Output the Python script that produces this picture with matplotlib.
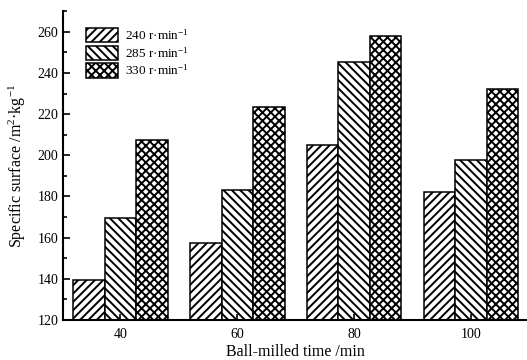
import matplotlib
matplotlib.use("Agg")
import matplotlib.pyplot as plt
import numpy as np
from matplotlib.ticker import MultipleLocator

plt.rcParams["font.family"] = ["Liberation Serif", "DejaVu Serif"]
plt.rcParams["mathtext.fontset"] = "custom"
plt.rcParams["mathtext.rm"] = "Liberation Serif"
plt.rcParams["mathtext.it"] = "Liberation Serif:italic"
plt.rcParams["hatch.linewidth"] = 1.4

times = ["40", "60", "80", "100"]
speeds = ["240 r·min$^{-1}$", "285 r·min$^{-1}$", "330 r·min$^{-1}$"]
s240 = [139.5, 157.5, 205, 182.3]
s285 = [169.4, 183.1, 245.3, 197.6]
s330 = [207.3, 223.4, 257.7, 232.4]
hatches = ["////", "\\\\\\\\", "xxxx"]

fig = plt.figure(figsize=(5.27, 3.6), dpi=100)
ax = fig.add_axes([0.1195, 0.111, 0.8805, 0.858])

x = np.arange(len(times))
w = 0.27
for i, (vals, lab, h) in enumerate(zip([s240, s285, s330], speeds, hatches)):
    ax.bar(x + (i - 1) * w, np.array(vals) - 120, w, bottom=120, color="white",
           edgecolor="black", linewidth=1.1, hatch=h, label=lab)

ax.set_xlim(-0.492, 3.48)
ax.set_ylim(120, 270)
ax.set_xticks(x)
ax.set_xticklabels(times)
ax.yaxis.set_major_locator(MultipleLocator(20))
ax.yaxis.set_minor_locator(MultipleLocator(10))
ax.tick_params(which="both", direction="in", labelsize=10, width=1.2)
ax.tick_params(which="major", length=5)
ax.tick_params(which="minor", length=3)
ax.tick_params(axis="x", which="both", length=4, pad=6)
for s in ["top", "right"]:
    ax.spines[s].set_visible(False)
for s in ["left", "bottom"]:
    ax.spines[s].set_linewidth(1.5)

ax.set_xlabel("Ball-milled time /min", fontsize=11.5, labelpad=2)
ax.set_ylabel("Specific surface /m$^2$·kg$^{-1}$", fontsize=11.5, labelpad=7)

ax.legend(loc="upper left", bbox_to_anchor=(0.025, 0.985), frameon=False,
          fontsize=9.5, handlelength=2.4, handleheight=1.3,
          labelspacing=0.25, handletextpad=0.5)

fig.savefig("out.png", dpi=100)
